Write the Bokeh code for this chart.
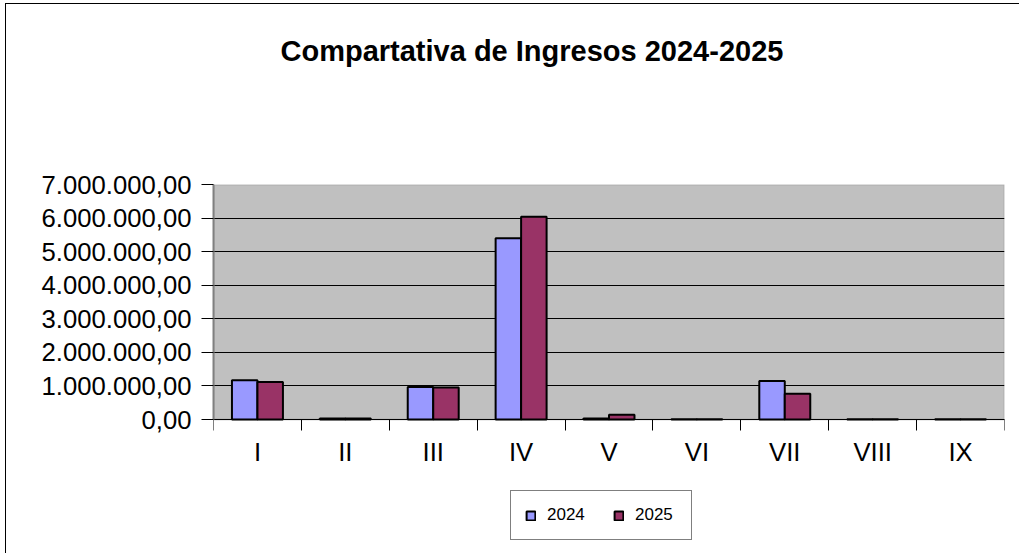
from bokeh.plotting import figure
from bokeh.models import FixedTicker, Title, ColumnDataSource, Range1d, Legend, LegendItem, BoxAnnotation
from bokeh.embed import file_html
from bokeh.resources import INLINE

categories = ["I", "II", "III", "IV", "V", "VI", "VII", "VIII", "IX"]
ingresos_2024 = [1170000, 30000, 970000, 5400000, 30000, 8000, 1150000, 8000, 8000]
ingresos_2025 = [1120000, 30000, 950000, 6040000, 140000, 8000, 770000, 8000, 8000]
y_ticks = [0, 1000000, 2000000, 3000000, 4000000, 5000000, 6000000, 7000000]
y_tick_labels = ["0,00", "1.000.000,00", "2.000.000,00", "3.000.000,00",
                 "4.000.000,00", "5.000.000,00", "6.000.000,00", "7.000.000,00"]
series_names = ["2024", "2025"]
title_text = "Compartativa de Ingresos 2024-2025"

FONT = "Liberation Sans"
OX, OY = 6, 4            # page offset of the drawing
W, H = 1020 - OX, 554 - OY
FRAME_TOP, PLOT_BOTTOM = 184, 419   # page y of the 7M line and of the 0 line
Y_MAX = 7000000
y_min = -Y_MAX * (OY + H - PLOT_BOTTOM) / (PLOT_BOTTOM - FRAME_TOP)

pos = list(range(1, len(categories) + 1))
src = ColumnDataSource(dict(
    x24=[p_ - 0.145 for p_ in pos],
    x25=[p_ + 0.145 for p_ in pos],
    v24=ingresos_2024,
    v25=ingresos_2025,
))

p = figure(width=W, height=H, output_backend="svg", toolbar_location=None,
           x_range=Range1d(0.5, len(categories) + 0.5), y_range=Range1d(y_min, Y_MAX),
           min_border_left=213 - OX, min_border_right=1020 - 1004, min_border_top=FRAME_TOP - OY,
           min_border_bottom=0)
p.styles = {"box-shadow": "-1px -1px 0 0 black",
            "margin-left": f"{OX}px", "margin-top": f"{OY}px"}

p.background_fill_color = "white"
p.border_fill_color = "white"
p.outline_line_color = None

# plot area (grey wall) with its grey border
p.add_layout(BoxAnnotation(left=0.5, right=len(categories) + 0.5, bottom=0, top=Y_MAX,
                           fill_color="#C0C0C0", fill_alpha=1, line_color="#808080",
                           line_width=2, level="image"))

r24 = p.vbar(x="x24", top="v24", width=0.29, source=src, fill_color="#9999FF",
             line_color="black", line_width=2)
r25 = p.vbar(x="x25", top="v25", width=0.29, source=src, fill_color="#993366",
             line_color="black", line_width=2)

# x axis, drawn at y = 0
p.xaxis.fixed_location = 0
p.xaxis.ticker = FixedTicker(ticks=pos, minor_ticks=[i + 0.5 for i in range(0, len(categories) + 1)])
p.xaxis.major_label_overrides = {k: c for k, c in zip(pos, categories)}
p.xaxis.major_tick_out = 0
p.xaxis.major_tick_in = 0
p.xaxis.minor_tick_out = 11
p.xaxis.minor_tick_in = 0
p.xaxis.minor_tick_line_color = "black"
p.xaxis.axis_line_color = "black"
p.xaxis.major_label_text_font = FONT
p.xaxis.major_label_text_font_size = "25.7px"
p.xaxis.major_label_text_color = "black"
p.xaxis.major_label_standoff = 7
p.xgrid.grid_line_color = None

# y axis
p.yaxis.ticker = FixedTicker(ticks=y_ticks)
p.yaxis.bounds = (0, Y_MAX)
p.yaxis.major_label_overrides = {k: l for k, l in zip(y_ticks, y_tick_labels)}
p.yaxis.major_tick_out = 12
p.yaxis.major_tick_in = 0
p.yaxis.minor_tick_out = 0
p.yaxis.minor_tick_in = 0
p.yaxis.major_tick_line_color = "black"
p.yaxis.axis_line_color = "#808080"
p.yaxis.axis_line_width = 2
p.yaxis.major_label_text_font = FONT
p.yaxis.major_label_text_font_size = "25.7px"
p.yaxis.major_label_text_color = "black"
p.yaxis.major_label_standoff = 10
p.ygrid.grid_line_color = "black"
p.ygrid.grid_line_width = 1

# spacer, then title (stacked outward from the frame)
p.add_layout(Title(text=" ", standoff=100, text_font_size="10px"), "above")
p.add_layout(Title(text=title_text, align="left", offset=67, standoff=10,
                   text_font=FONT, text_font_size="29px", text_font_style="bold",
                   text_color="black"), "above")

# legend, below the plot area inside the frame
lg = Legend(items=[LegendItem(label=series_names[0], renderers=[r24]),
                   LegendItem(label=series_names[1], renderers=[r25])])
lg.orientation = "horizontal"
lg.location = (297, 14)
lg.border_line_color = "black"
lg.border_line_width = 1
lg.background_fill_color = "white"
lg.background_fill_alpha = 1
lg.label_text_font = FONT
lg.label_text_font_size = "17px"
lg.label_text_color = "black"
lg.glyph_width = 11
lg.glyph_height = 11
lg.label_standoff = 11
lg.label_width = 42
lg.spacing = 24
lg.padding = 14
lg.margin = 0
p.add_layout(lg, "center")

open("out.html", "w").write(file_html(p, INLINE))
